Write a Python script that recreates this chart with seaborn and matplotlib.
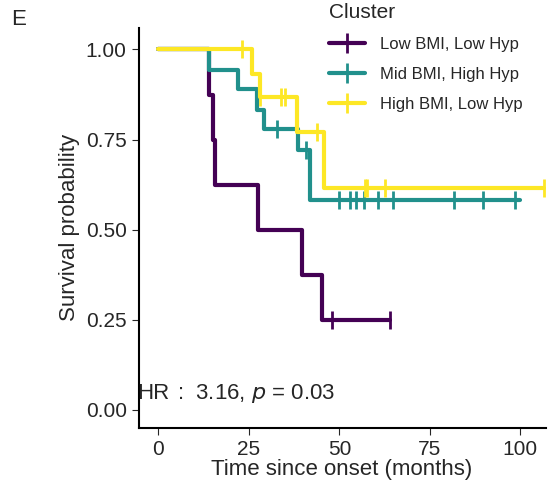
import matplotlib
matplotlib.use("Agg")
import matplotlib.pyplot as plt
from matplotlib.lines import Line2D
import seaborn as sns
import pandas as pd

sns.set_style("white")
plt.rcParams['font.family'] = ['Liberation Sans', 'DejaVu Sans']

groups = ["Low BMI, Low Hyp", "Mid BMI, High Hyp", "High BMI, Low Hyp"]
colors = ["#440154", "#21908C", "#FDE725"]

low_t = [0, 14, 15, 15.5, 27.6, 39.7, 45.2, 64]
low_s = [1.0, 0.875, 0.75, 0.625, 0.5, 0.375, 0.25, 0.25]
low_c = [48, 64]

mid_t = [0, 14, 22, 27.2, 29.2, 38.6, 42, 100]
mid_s = [1.0, 0.944, 0.889, 0.833, 0.778, 0.722, 0.583, 0.583]
mid_c = [32.8, 40.7, 49.9, 53, 54.7, 56.7, 60.6, 64.8, 81.8, 89.6, 98.6]

high_t = [0, 25.8, 28.1, 38.2, 45.8, 106.6]
high_s = [1.0, 0.933, 0.867, 0.771, 0.617, 0.617]
high_c = [23, 28.1, 34, 35, 43.7, 57, 57.6, 62.7, 106.6]

series = [(low_t, low_s, low_c), (mid_t, mid_s, mid_c), (high_t, high_s, high_c)]

fig, ax = plt.subplots(figsize=(5.54, 4.97), dpi=100)
for name, col, (t, s, c) in zip(groups, colors, series):
    df = pd.DataFrame({"t": t, "s": s})
    sns.lineplot(data=df, x="t", y="s", drawstyle="steps-post", color=col, lw=3,
                 ax=ax, legend=False)
    cs = []
    for ci in c:
        v = s[0]
        for ti, si in zip(t, s):
            if ti <= ci:
                v = si
        cs.append(v)
    ax.scatter(c, cs, marker="|", s=150, color=col, linewidths=2, zorder=5)

ax.set_xlim(-5.5, 107)
ax.set_ylim(-0.05, 1.06)
ax.set_xticks([0, 25, 50, 75, 100])
ax.set_yticks([0, 0.25, 0.5, 0.75, 1.0])
ax.set_yticklabels(["0.00", "0.25", "0.50", "0.75", "1.00"])
ax.tick_params(labelsize=15, length=5, direction="out", bottom=True, left=True)
ax.set_xlabel("Time since onset (months)", fontsize=16, labelpad=0)
ax.set_ylabel("Survival probability", fontsize=16)
for sp in ["top", "right"]:
    ax.spines[sp].set_visible(False)
for sp in ["left", "bottom"]:
    ax.spines[sp].set_color("black")
    ax.spines[sp].set_linewidth(1.5)

handles = [Line2D([0], [0], color=c, lw=3, marker="|", markersize=14, markeredgewidth=2)
           for c in colors]
leg = ax.legend(handles, groups, title="Cluster", loc="upper left",
                bbox_to_anchor=(0.43, 1.1), frameon=False, fontsize=12,
                title_fontsize=15, handlelength=2.2, labelspacing=0.9,
                handletextpad=0.9)
leg._legend_box.align = "left"
ax.text(-6, 0.03, "HR", fontsize=16)
ax.text(5, 0.03, ":  3.16, $p$ = 0.03", fontsize=16)
fig.text(0.02, 0.95, "E", fontsize=16)
fig.subplots_adjust(left=0.25, right=0.985, top=0.944, bottom=0.139)
fig.savefig("out.png", dpi=100)
